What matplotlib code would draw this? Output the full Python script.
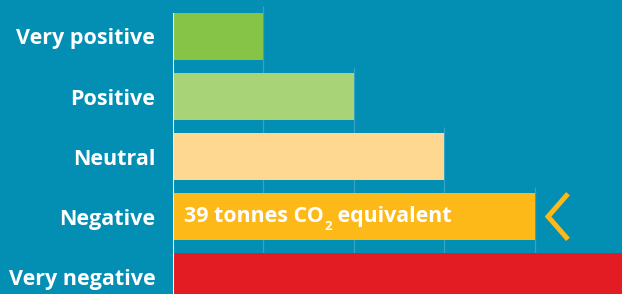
import matplotlib
matplotlib.use('Agg')
import matplotlib.pyplot as plt
from matplotlib.transforms import offset_copy
import numpy as np

# categories and values (in bar units; grid step = 1)
categories = ["Very positive", "Positive", "Neutral", "Negative", "Very negative"]
values = [1, 2, 3, 4, 5]
colors = ["#86c447", "#a8d376", "#fed890", "#fdb918", "#e31b23"]
note_parts = ["39 tonnes CO", "2", " equivalent"]
note_index = 3

bg = "#038eb3"
plt.rcParams['font.family'] = ['Open Sans', 'DejaVu Sans']

fig = plt.figure(figsize=(6.22, 2.94), dpi=100, facecolor=bg)
left = 172.5 / 622
ax = fig.add_axes([left, 0, 1 - left, 1], facecolor=bg)

y = np.arange(len(categories))
h = 47 / 60

# step-shaped grid: each line begins just above the bar that ends on it
for k in range(1, len(values)):
    ax.vlines(k, k - 1.5, len(categories), color="#35a3c2", lw=0.9, zorder=1)

ax.barh(y, values, height=h, color=colors, zorder=2)
ax.vlines(0, -h / 2, len(categories), color="white", lw=1.5, zorder=3)

# annotation inside the negative bar, with a lowered subscript "2"
renderer = fig.canvas.get_renderer()
fs = 15.4
t1 = ax.text(0.127, note_index + 0.09, note_parts[0], color="white", fontsize=fs,
             fontweight="bold", va="baseline", ha="left", zorder=4)
w1 = t1.get_window_extent(renderer).width * 72 / fig.dpi
t2 = ax.text(0.127, note_index + 0.09, note_parts[1], color="white", fontsize=fs * 0.62,
             fontweight="bold", va="baseline", ha="left", zorder=4,
             transform=offset_copy(ax.transData, fig=fig, x=w1 + 0.5, y=-6, units="points"))
w2 = t2.get_window_extent(renderer).width * 72 / fig.dpi
ax.text(0.127, note_index + 0.09, note_parts[2], color="white", fontsize=fs,
        fontweight="bold", va="baseline", ha="left", zorder=4,
        transform=offset_copy(ax.transData, fig=fig, x=w1 + w2 + 0.5, y=0, units="points"))

# chevron pointing at the negative bar
v = values[note_index]
ax.plot([v + 0.37, v + 0.15, v + 0.37],
        [note_index - 0.38, note_index, note_index + 0.38],
        color=colors[note_index], lw=3.6, solid_joinstyle="miter",
        solid_capstyle="butt", zorder=4)

ax.set_xlim(0, (622 - 172.5) / 90.5)
ax.set_ylim(4.29, -0.608)
ax.set_yticks(y)
ax.set_yticklabels(categories, color="white", fontsize=15.5, fontweight="bold")
ax.tick_params(axis="y", length=0, pad=12.5)
ax.set_xticks([])
for s in ax.spines.values():
    s.set_visible(False)

plt.savefig("out.png", dpi=100, facecolor=bg)
plt.close()
